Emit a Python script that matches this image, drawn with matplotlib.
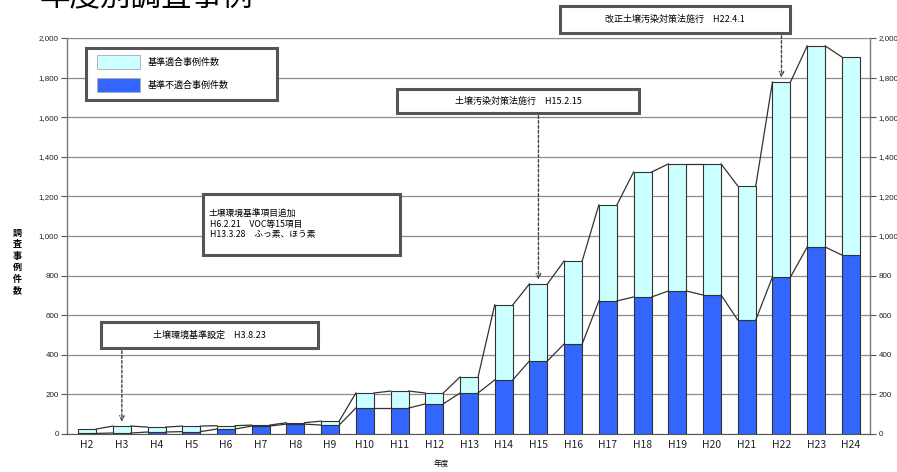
import matplotlib
matplotlib.use("Agg")
import matplotlib.pyplot as plt
from matplotlib.patches import Rectangle
from matplotlib.ticker import FuncFormatter
import numpy as np

plt.rcParams['font.family'] = ['Noto Sans CJK JP', 'DejaVu Sans']

# Fiscal years (Heisei)
years = ["H2", "H3", "H4", "H5", "H6", "H7", "H8", "H9", "H10", "H11", "H12",
         "H13", "H14", "H15", "H16", "H17", "H18", "H19", "H20", "H21", "H22",
         "H23", "H24"]
# Cases exceeding the standard
exceed = [3, 5, 10, 12, 25, 40, 50, 45, 131, 131, 152, 207, 273, 369, 455,
          672, 692, 722, 702, 576, 793, 944, 904]
# Total surveyed cases
total = [25, 40, 35, 40, 42, 45, 57, 65, 207, 217, 207, 288, 652, 758, 874,
         1157, 1323, 1364, 1364, 1253, 1778, 1960, 1904]
comply = [t - e for t, e in zip(total, exceed)]

title = "年度別調査事例"
legend_labels = ["基準適合事例件数", "基準不適合事例件数"]
ylabel = "調\n査\n事\n例\n件\n数"
xlabel = "年度"
notes = [
    ("土壌環境基準設定　H3.8.23", "H3"),
    ("土壌汚染対策法施行　H15.2.15", "H15"),
    ("改正土壌汚染対策法施行　H22.4.1", "H22"),
]
note_multi = "土壌環境基準項目追加\n H6.2.21　VOC等15項目\n H13.3.28　ふっ素、ほう素"

C_LIGHT = "#CCFFFF"
C_BLUE = "#3366FF"
EDGE = "#333333"

W, H = 897, 472
fig = plt.figure(figsize=(W / 100, H / 100), dpi=100)


def fx(px):
    return px / W


def fy(py):
    return 1 - py / H


ax = fig.add_axes([fx(67), fy(434), fx(870) - fx(67), fy(38) - fy(434)])
x = np.arange(len(years))
bw = 0.52

ax.bar(x, exceed, width=bw, color=C_BLUE, edgecolor=EDGE, linewidth=0.8, zorder=3)
ax.bar(x, comply, width=bw, bottom=exceed, color=C_LIGHT, edgecolor=EDGE,
       linewidth=0.8, zorder=3)

# series lines joining neighbouring bar tops
for series in (exceed, total):
    for i in range(len(x) - 1):
        ax.plot([x[i] + bw / 2, x[i + 1] - bw / 2], [series[i], series[i + 1]],
                color="#333333", lw=0.9, zorder=4)

ax.set_xlim(-0.58, len(years) - 1 + 0.55)
ax.set_ylim(0, 2000)
ax.set_yticks(np.arange(0, 2001, 200))
fmt = FuncFormatter(lambda v, p: f"{int(v):,}")
ax.yaxis.set_major_formatter(fmt)
ax.grid(axis="y", color="#8c8c8c", lw=0.9, zorder=0)
ax.set_axisbelow(True)
ax.set_xticks(x)
ax.set_xticklabels(years, fontsize=7.5, color="#222222")
ax.tick_params(axis="x", length=0, pad=4)
ax.tick_params(axis="y", length=4, width=0.8, color="#555555", labelsize=5.8,
               labelcolor="#222222", pad=2, right=True, labelright=True)
for lab in ax.get_yticklabels() + ax.get_yticklabels(which="major"):
    lab.set_family("Liberation Sans")
for lab in ax.yaxis.get_ticklabels():
    lab.set_family("Liberation Sans")
for t in ax.yaxis.get_major_ticks():
    t.label2.set_family("Liberation Sans")
for s in ("left", "right"):
    ax.spines[s].set_color("#777777")
    ax.spines[s].set_linewidth(1.0)
ax.spines["top"].set_color("#8c8c8c")
ax.spines["bottom"].set_color("#555555")

fig.text(fx(40), fy(12), title, fontsize=22, va="bottom", ha="left")
fig.text(fx(17), fy(262), ylabel, fontsize=6.5, ha="center", va="center",
         linespacing=1.35, fontweight="bold")
fig.text(fx(441), fy(464), xlabel, fontsize=5.5, ha="center", va="center")


def boxed(x0, y0, x1, y1):
    shadow = Rectangle((fx(x0) + 0.002, fy(y1) - 0.004), fx(x1) - fx(x0),
                       fy(y0) - fy(y1), transform=fig.transFigure,
                       facecolor="#b0b0b0", edgecolor="none", zorder=8)
    box = Rectangle((fx(x0), fy(y1)), fx(x1) - fx(x0), fy(y0) - fy(y1),
                    transform=fig.transFigure, facecolor="white",
                    edgecolor="#555555", lw=2.2, zorder=9)
    fig.add_artist(shadow)
    fig.add_artist(box)


# legend
boxed(86, 48, 277, 100)
for (py, col, lab) in ((62, C_LIGHT, legend_labels[0]), (85, C_BLUE, legend_labels[1])):
    fig.add_artist(Rectangle((fx(97), fy(py + 7)), fx(140) - fx(97), fy(py - 7) - fy(py + 7),
                             transform=fig.transFigure, facecolor=col,
                             edgecolor="#aaaaaa", lw=0.6, zorder=10))
    fig.text(fx(148), fy(py), lab, fontsize=6.5, va="center", ha="left", zorder=10)

# annotation boxes with dashed arrows to the bar tops
note_boxes = [(101, 322, 318, 348), (397, 89, 639, 113), (560, 6, 790, 33)]
px_per_val = (434 - 38) / 2000.0
for (text, yr), (x0, y0, x1, y1) in zip(notes, note_boxes):
    boxed(x0, y0, x1, y1)
    fig.text(fx((x0 + x1) / 2), fy((y0 + y1) / 2), text, fontsize=6.5,
             ha="center", va="center", zorder=10)
    i = years.index(yr)
    y_start = (434 - y1) / px_per_val
    ax.annotate("", xy=(i, total[i] + 8), xytext=(i, y_start),
                arrowprops=dict(arrowstyle="->", linestyle=(0, (2, 1.5)),
                                color="#444444", lw=1.0, mutation_scale=8),
                annotation_clip=False, zorder=7)

boxed(203, 194, 400, 255)
fig.text(fx(208), fy(224), note_multi, fontsize=6.3, ha="left", va="center",
         linespacing=1.25, zorder=10)

fig.savefig("out.png", dpi=100)
